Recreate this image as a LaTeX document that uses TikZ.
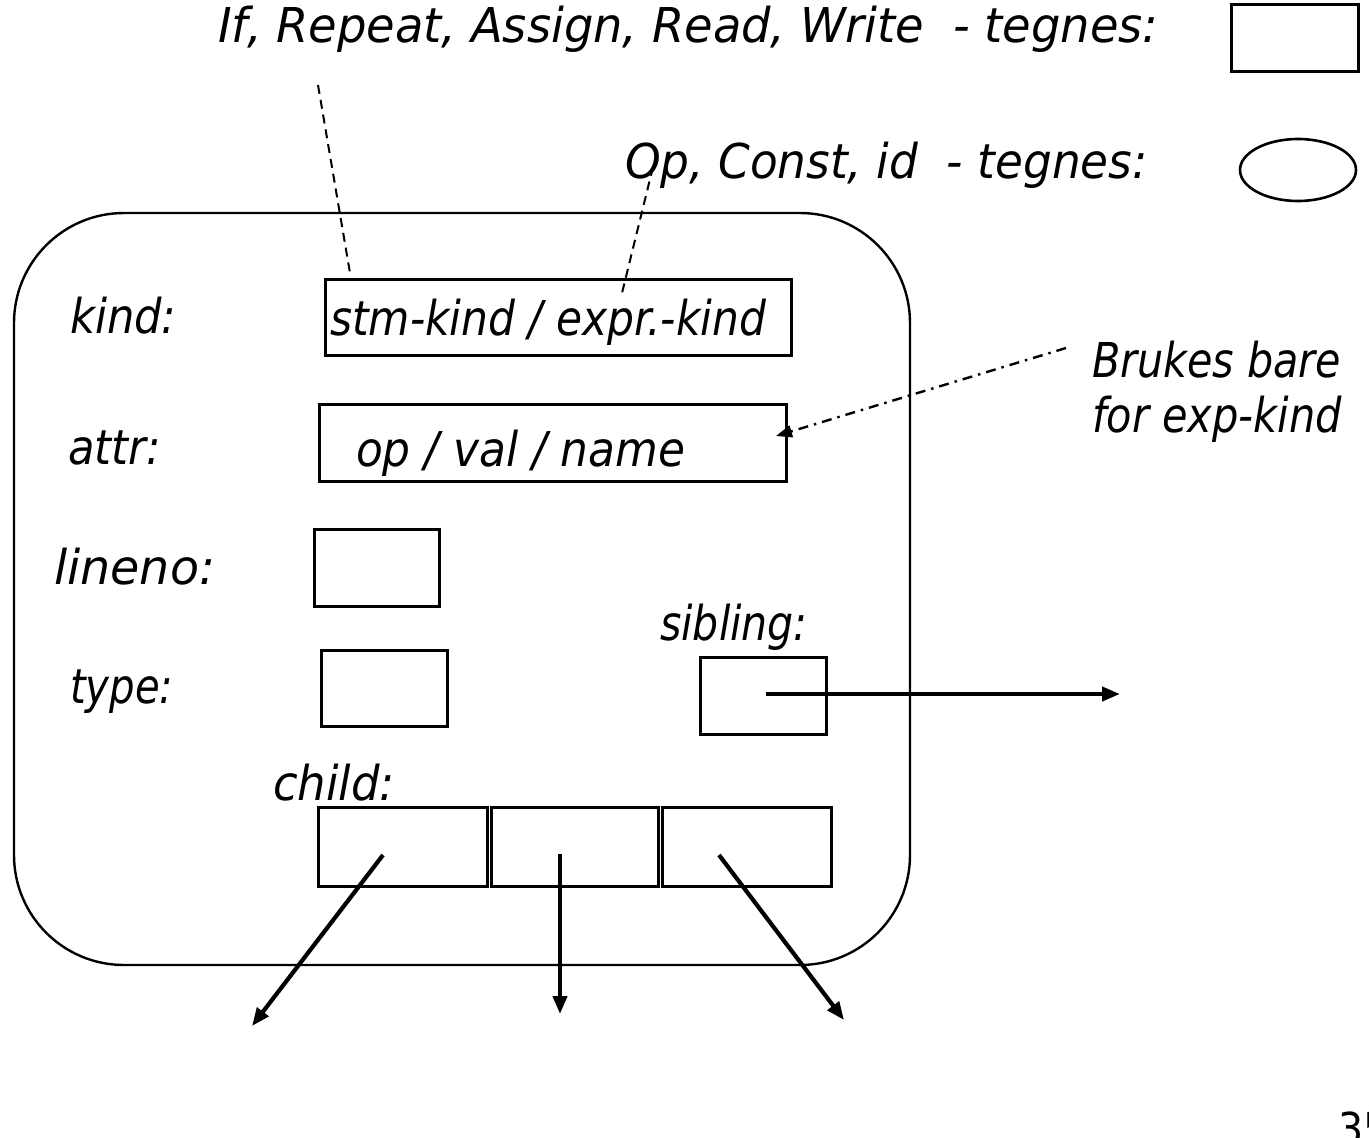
\documentclass[tikz,border=0pt]{standalone}
\usepackage{fontspec}
\setmainfont{DejaVu Sans Condensed}
\usetikzlibrary{arrows.meta}
\begin{document}
\begin{tikzpicture}[x=1pt,y=-1pt,
  txt/.style={font=\fontsize{48}{56}\selectfont\itshape, inner sep=0pt, anchor=base west},
  cell/.style={draw, line width=2.6pt, inner sep=0pt, anchor=north west},
  ptr/.style={line width=4.2pt, -{Triangle[length=18pt,width=14pt]}},
  lead/.style={line width=2pt, dash pattern=on 9pt off 6pt},
  leaddot/.style={line width=2.4pt, dash pattern=on 10pt off 6pt on 2.5pt off 6pt, -{Triangle[length=16pt,width=12pt]}}]
\useasboundingbox (0,0) rectangle (1369,1138);
% legend
\node[txt] (t1) at (218,42) {\scalebox{1.073}[1]{If, Repeat, Assign, Read, Write\ \ - tegnes:}};
\node[cell, minimum width=127pt, minimum height=67pt] (lrect) at (1230,3) {};
\node[txt] (t2) at (625,178) {\scalebox{1.05}[1]{Op, Const, id\ \ - tegnes:}};
\draw[line width=2.6pt] (1298,170) ellipse [x radius=58pt, y radius=31pt];
% frame
\node[draw, line width=2.4pt, rounded corners=110pt, minimum width=896pt, minimum height=752pt, inner sep=0pt] (frame) at (462,589) {};
% fields
\node[txt] (lkind) at (70,333) {kind:};
\node[cell, minimum width=466pt, minimum height=76pt] (bkind) at (324,278) {};
\node[txt] (tkind) at (330,335) {\scalebox{0.98}[1]{stm-kind / expr.-kind}};
\node[txt] (lattr) at (68,464) {attr:};
\node[cell, minimum width=467pt, minimum height=77pt] (battr) at (318,403) {};
\node[txt] (tattr) at (356,466) {\scalebox{1.015}[1]{op / val / name}};
\node[txt] (lline) at (54,584) {\scalebox{1.1}[1]{lineno:}};
\node[cell, minimum width=125pt, minimum height=77pt] (bline) at (313,528) {};
\node[txt] (ltype) at (70,703) {\scalebox{0.93}[1]{type:}};
\node[cell, minimum width=126pt, minimum height=76pt] (btype) at (320,649) {};
\node[txt] (lsib) at (660,640) {\scalebox{0.95}[1]{sibling:}};
\node[cell, minimum width=126pt, minimum height=77pt] (bsib) at (699,656) {};
\node[txt] (lchild) at (273,800) {\scalebox{1.04}[1]{child:}};
\node[cell, minimum width=169pt, minimum height=79pt] (c1) at (317,806) {};
\node[cell, minimum width=167pt, minimum height=79pt] (c2) at (490,806) {};
\node[cell, minimum width=169pt, minimum height=79pt] (c3) at (661,806) {};
\node[txt] (note1) at (1092,377) {\scalebox{0.955}[1]{Brukes bare}};
\node[txt] (note2) at (1092,432) {\scalebox{0.96}[1]{for exp-kind}};
\node[font=\fontsize{44}{50}\selectfont, inner sep=0pt, anchor=base west] (pg) at (1338,1144) {35};
% leaders
\coordinate (d1a) at (318,85);
\coordinate (d1b) at (350,273);
\coordinate (d2a) at (653,167);
\coordinate (d2b) at (622,293);
\draw[lead] (d1a) -- (d1b);
\draw[lead] (d2a) -- (d2b);
\coordinate (n0) at (1066,348);
\coordinate (n1) at (776,436);
\draw[leaddot] (n0) -- (n1);
% pointers
\coordinate (s0) at (766,694);
\coordinate (s1) at (1120,694);
\draw[ptr] (s0) -- (s1);
\coordinate (a0) at (383,855);
\coordinate (a1) at (252,1026);
\draw[ptr] (a0) -- (a1);
\coordinate (b0) at (560,854);
\coordinate (b1) at (560,1014);
\draw[ptr] (b0) -- (b1);
\coordinate (e0) at (719,855);
\coordinate (e1) at (844,1020);
\draw[ptr] (e0) -- (e1);
\end{tikzpicture}
\end{document}
